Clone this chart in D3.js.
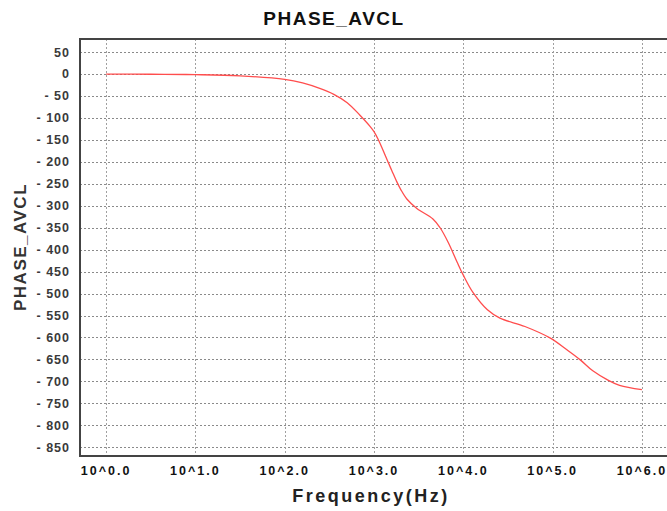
<!DOCTYPE html>
<html>
<head>
<meta charset="utf-8">
<script src="https://cdn.jsdelivr.net/npm/d3@7"></script>
<style>
  body { margin: 0; background: #fff; }
  svg { display: block; font-family: "Liberation Sans", Arial, sans-serif; }
</style>
</head>
<body>
<script>
// Phase response (log10 of frequency, phase in degrees)
var logFreq = [0, 0.5, 1.0, 1.5, 2.0, 2.2, 2.4, 2.55, 2.7, 2.84, 2.96, 3.0, 3.05, 3.1, 3.15, 3.2, 3.25, 3.3, 3.37, 3.48,
               3.66, 3.74, 3.83, 3.93, 4.0, 4.11, 4.27, 4.41, 4.69, 4.97, 5.16, 5.31, 5.45, 5.61, 5.75, 6.0];
var phase = [0, -0.3, -1.2, -4, -12, -20, -33, -46, -65, -93, -120, -131, -150, -173, -197, -220, -243, -263, -285, -306,
             -330, -350, -383, -428, -458, -498, -537, -556, -575, -601, -628, -651, -676, -696, -709, -719];

var xTicks = [0, 1, 2, 3, 4, 5, 6];
var yTicks = d3.range(50, -851, -50);

var chartTitle = "PHASE_AVCL",
    xTitle = "Frequency(Hz)",
    yTitle = "PHASE_AVCL";

var width = 667,
    height = 511;

var margin = {left: 80, top: 39, right: 668, bottom: 456};

var svg = d3.select("body").append("svg")
    .attr("width", width)
    .attr("height", height);

// scales
var x = d3.scaleLinear()
    .domain([-0.292, 6.292])
    .range([margin.left, margin.right]);

var y = d3.scaleLinear()
    .domain([-870, 80])
    .range([margin.bottom, margin.top]);

// grid
svg.append("g")
    .selectAll("line")
    .data(yTicks)
    .enter().append("line")
    .attr("x1", margin.left).attr("x2", margin.right)
    .attr("y1", d => Math.round(y(d)) + 0.5).attr("y2", d => Math.round(y(d)) + 0.5)
    .attr("stroke", "#8a8a8a")
    .attr("stroke-dasharray", "2,2");

svg.append("g")
    .selectAll("line")
    .data(xTicks)
    .enter().append("line")
    .attr("x1", d => Math.round(x(d)) + 0.5).attr("x2", d => Math.round(x(d)) + 0.5)
    .attr("y1", margin.top).attr("y2", margin.bottom)
    .attr("stroke", "#a0a0a0")
    .attr("stroke-dasharray", "2,2");

// frame
svg.append("rect")
    .attr("x", margin.left)
    .attr("y", margin.top)
    .attr("width", margin.right - margin.left)
    .attr("height", margin.bottom - margin.top)
    .attr("fill", "none")
    .attr("stroke", "#444")
    .attr("stroke-width", 2);

// curve
var pts = logFreq.map((d, i) => [d, phase[i]]);
var line = d3.line()
    .x(d => x(d[0]))
    .y(d => y(d[1]))
    .curve(d3.curveCatmullRom.alpha(0.5));

svg.append("path")
    .datum(pts)
    .attr("d", line)
    .attr("fill", "none")
    .attr("stroke", "#ff4d4d")
    .attr("stroke-width", 1.3);

// y tick labels
svg.append("g")
    .selectAll("text")
    .data(yTicks)
    .enter().append("text")
    .attr("x", 70)
    .attr("y", d => y(d))
    .attr("dy", "0.35em")
    .attr("text-anchor", "end")
    .attr("font-size", 12.5)
    .attr("font-weight", "bold")
    .attr("letter-spacing", 1)
    .attr("fill", "#3a3a3a")
    .text(d => d < 0 ? "- " + (-d) : String(d));

// x tick labels
svg.append("g")
    .selectAll("text")
    .data(xTicks)
    .enter().append("text")
    .attr("x", d => x(d))
    .attr("y", 475)
    .attr("text-anchor", "middle")
    .attr("font-size", 12.5)
    .attr("font-weight", "bold")
    .attr("letter-spacing", 2)
    .attr("fill", "#111")
    .text(d => "10^" + d.toFixed(1));

// titles
svg.append("text")
    .attr("x", 334)
    .attr("y", 25)
    .attr("text-anchor", "middle")
    .attr("font-size", 19)
    .attr("font-weight", "bold")
    .attr("letter-spacing", 1.5)
    .attr("fill", "#111")
    .text(chartTitle);

svg.append("text")
    .attr("x", 371)
    .attr("y", 502)
    .attr("text-anchor", "middle")
    .attr("font-size", 18)
    .attr("font-weight", "bold")
    .attr("letter-spacing", 2.5)
    .attr("fill", "#222")
    .text(xTitle);

svg.append("text")
    .attr("transform", "translate(26,247) rotate(-90)")
    .attr("text-anchor", "middle")
    .attr("font-size", 17)
    .attr("font-weight", "bold")
    .attr("letter-spacing", 1.5)
    .attr("fill", "#333")
    .text(yTitle);
</script>
</body>
</html>
